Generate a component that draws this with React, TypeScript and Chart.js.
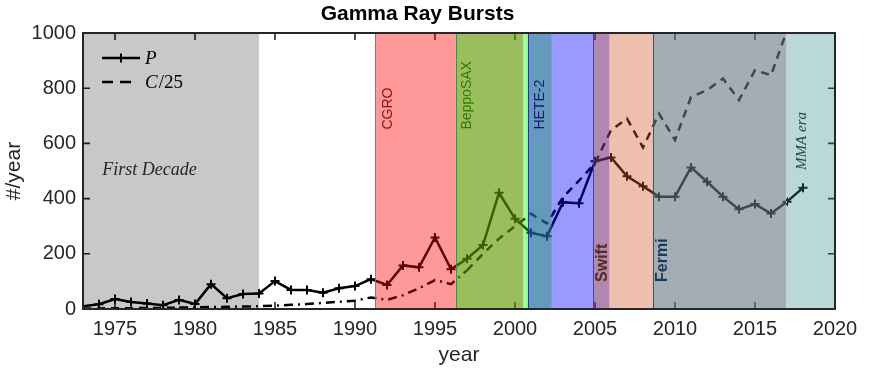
import React, { useEffect, useRef } from "react";
import { Chart, registerables } from "chart.js";

Chart.register(...registerables);

// ---------------- data ----------------
const years = [
  1973, 1974, 1975, 1976, 1977, 1978, 1979, 1980, 1981, 1982, 1983, 1984, 1985, 1986, 1987, 1988,
  1989, 1990, 1991, 1992, 1993, 1994, 1995, 1996, 1997, 1998, 1999, 2000, 2001, 2002, 2003, 2004,
  2005, 2006, 2007, 2008, 2009, 2010, 2011, 2012, 2013, 2014, 2015, 2016, 2017, 2018,
];
const pRate = [
  10, 17, 36, 25, 20, 14, 33, 18, 90, 39, 54, 56, 101, 69, 69, 59,
  75, 83, 108, 87, 158, 151, 259, 144, 182, 232, 421, 327, 276, 264, 387, 383,
  535, 549, 481, 445, 407, 407, 513, 461, 407, 361, 380, 346, 389, 439,
];
const cRate = [
  1, 2, 3, 3, 4, 4, 5, 6, 7, 8, 9, 10, 12, 15, 18, 22,
  26, 30, 42, 33, 50, 75, 105, 90, 140, 200, 255, 300, 345, 310, 405, 465,
  528, 648, 690, 585, 708, 612, 768, 793, 835, 757, 865, 847, 1010, 1150,
];
const xTickValues = [1975, 1980, 1985, 1990, 1995, 2000, 2005, 2010, 2015, 2020];
const yTickValues = [0, 200, 400, 600, 800, 1000];

const eraStarts = [1973, 1991.25, 1996.3, 2000.5, 2000.8, 2002.3, 2004.9, 2005.9, 2008.6, 2016.95];
const eraEnds = [1984, 1996.3, 2000.5, 2000.8, 2002.3, 2004.9, 2005.9, 2008.6, 2016.95, 2020];
const missionNames = ["CGRO", "BeppoSAX", "HETE-2", "Swift", "Fermi"];
const missionStarts = [1991.25, 1996.3, 2000.8, 2004.9, 2008.6];

// ---------------- styles ----------------
const SANS = "'Liberation Sans', Arial, Helvetica, sans-serif";
const SERIF = "'Liberation Serif', 'DejaVu Serif', serif";
const AXIS = "#262626";

const eraFill = [
  "rgba(0,0,0,0.216)",
  "rgba(255,0,0,0.4)",
  "rgba(95,151,0,0.63)",
  "rgba(0,255,0,0.4)",
  "rgba(29,109,159,0.69)",
  "rgba(0,0,255,0.4)",
  "rgba(122,55,122,0.6)",
  "rgba(210,90,40,0.38)",
  "rgba(100,120,130,0.6)",
  "rgba(45,136,136,0.33)",
];
const edgeColors = [
  "rgba(120,120,120,0.9)",
  "rgba(60,140,60,0.9)",
  "rgba(40,40,150,0.9)",
  "rgba(110,50,40,0.9)",
  "rgba(40,80,120,0.9)",
];
const missionText = [
  { color: "#8a0f0f", font: `14px ${SANS}`, dx: 0.8, yv: 650 },
  { color: "#2a7d00", font: `14px ${SANS}`, dx: 0.7, yv: 650 },
  { color: "#14147a", font: `14px ${SANS}`, dx: 0.76, yv: 650 },
  { color: "#5a2a1e", font: `bold 16px ${SANS}`, dx: 0.6, yv: 98 },
  { color: "#1c3a58", font: `bold 16px ${SANS}`, dx: 0.6, yv: 98 },
];

function isDashDot(x: number) {
  return x >= 1979 && x < 1996.3;
}

const decorPlugin = {
  id: "grbDecor",
  beforeDatasetsDraw(chart: any) {
    const { ctx, chartArea: a, scales } = chart;
    const x = scales.x;
    const y = scales.y;
    ctx.save();
    ctx.strokeStyle = AXIS;
    ctx.lineWidth = 1.6;
    ctx.beginPath();
    const tl = 7;
    for (const v of xTickValues) {
      if (v <= 1973 || v >= 2020) continue;
      const px = x.getPixelForValue(v);
      ctx.moveTo(px, a.bottom);
      ctx.lineTo(px, a.bottom - tl);
      ctx.moveTo(px, a.top);
      ctx.lineTo(px, a.top + tl);
    }
    for (const v of yTickValues) {
      if (v <= 0 || v >= 1000) continue;
      const py = y.getPixelForValue(v);
      ctx.moveTo(a.left, py);
      ctx.lineTo(a.left + tl, py);
      ctx.moveTo(a.right, py);
      ctx.lineTo(a.right - tl, py);
    }
    ctx.stroke();
    ctx.restore();
  },
  afterDatasetsDraw(chart: any) {
    const { ctx, chartArea: a, scales } = chart;
    const x = scales.x;
    const y = scales.y;
    ctx.save();
    // translucent era bands over everything
    eraStarts.forEach((s, i) => {
      const l = x.getPixelForValue(s);
      const r = x.getPixelForValue(eraEnds[i]);
      ctx.fillStyle = eraFill[i];
      ctx.fillRect(l, a.top, r - l, a.bottom - a.top);
    });
    // edges of mission patches
    ctx.lineWidth = 1;
    missionStarts.forEach((s, i) => {
      const px = Math.round(x.getPixelForValue(s)) + 0.5;
      ctx.strokeStyle = edgeColors[i];
      ctx.beginPath();
      ctx.moveTo(px, a.top);
      ctx.lineTo(px, a.bottom);
      ctx.stroke();
    });
    {
      const px = Math.round(x.getPixelForValue(eraStarts[9])) + 0.5;
      ctx.strokeStyle = "rgba(200,215,225,0.9)";
      ctx.setLineDash([2, 2]);
      ctx.beginPath();
      ctx.moveTo(px, a.top);
      ctx.lineTo(px, a.bottom);
      ctx.stroke();
      ctx.setLineDash([]);
    }
    // mission labels (rotated)
    missionNames.forEach((name, i) => {
      const st = missionText[i];
      ctx.save();
      ctx.translate(x.getPixelForValue(missionStarts[i] + st.dx), y.getPixelForValue(st.yv));
      ctx.rotate(-Math.PI / 2);
      ctx.font = st.font;
      ctx.fillStyle = st.color;
      ctx.textAlign = "left";
      ctx.textBaseline = "middle";
      ctx.fillText(name, 0, 0);
      ctx.restore();
    });
    // MMA era
    ctx.save();
    ctx.translate(x.getPixelForValue(eraStarts[9] + 1.0), y.getPixelForValue(504));
    ctx.rotate(-Math.PI / 2);
    ctx.font = `italic 15px ${SERIF}`;
    ctx.fillStyle = "#1a4646";
    ctx.textAlign = "left";
    ctx.textBaseline = "middle";
    ctx.fillText("MMA era", 0, 0);
    ctx.restore();
    // First Decade
    ctx.font = `italic 18px ${SERIF}`;
    ctx.fillStyle = "#262626";
    ctx.textAlign = "left";
    ctx.textBaseline = "middle";
    ctx.fillText("First Decade", x.getPixelForValue(1974.2), y.getPixelForValue(504));

    // legend
    const lx0 = a.left + 19;
    const lx1 = a.left + 57;
    const ly1 = a.top + 25;
    const ly2 = a.top + 49;
    ctx.strokeStyle = "#000";
    ctx.lineWidth = 2.5;
    ctx.beginPath();
    ctx.moveTo(lx0, ly1);
    ctx.lineTo(lx1, ly1);
    ctx.stroke();
    ctx.lineWidth = 2;
    const mx = (lx0 + lx1) / 2;
    ctx.beginPath();
    ctx.moveTo(mx - 4.5, ly1);
    ctx.lineTo(mx + 4.5, ly1);
    ctx.moveTo(mx, ly1 - 4.5);
    ctx.lineTo(mx, ly1 + 4.5);
    ctx.stroke();
    ctx.lineWidth = 2.5;
    ctx.setLineDash([11, 7]);
    ctx.beginPath();
    ctx.moveTo(lx0, ly2);
    ctx.lineTo(lx1 - 7, ly2);
    ctx.stroke();
    ctx.setLineDash([]);
    ctx.fillStyle = "#000";
    ctx.textBaseline = "middle";
    ctx.font = `italic 19px ${SERIF}`;
    ctx.fillText("P", lx1 + 5, ly1 + 1);
    ctx.fillText("C", lx1 + 5, ly2 + 1);
    const cw = ctx.measureText("C").width;
    ctx.font = `19px ${SERIF}`;
    ctx.fillText("/25", lx1 + 6 + cw, ly2 + 1);

    // box
    ctx.strokeStyle = AXIS;
    ctx.lineWidth = 2;
    ctx.strokeRect(a.left, a.top, a.right - a.left, a.bottom - a.top);
    ctx.restore();
  },
};

export default function App() {
  const ref = useRef<HTMLCanvasElement | null>(null);

  useEffect(() => {
    if (!ref.current) return;
    const chart = new Chart(ref.current, {
      type: "line",
      data: {
        datasets: [
          {
            label: "P",
            data: years.map((yr, i) => ({ x: yr, y: pRate[i] })),
            borderColor: "#000",
            borderWidth: 2.5,
            pointStyle: "cross",
            pointRadius: 4.5,
            pointBorderWidth: 2,
            pointBorderColor: "#000",
            pointBackgroundColor: "#000",
            fill: false,
            tension: 0,
          },
          {
            label: "C/25",
            data: years.map((yr, i) => ({ x: yr, y: cRate[i] })),
            borderColor: "#000",
            borderWidth: 2.5,
            pointRadius: 0,
            fill: false,
            tension: 0,
            borderDash: [8, 6],
            segment: {
              borderDash: (ctx: any) => (isDashDot(ctx.p0.parsed.x) ? [9, 5, 2, 5] : [8, 6]),
            },
          },
        ],
      },
      options: {
        animation: false,
        responsive: false,
        maintainAspectRatio: false,
        layout: { padding: { left: 0, right: 39, top: 0, bottom: 0 } },
        plugins: {
          legend: { display: false },
          tooltip: { enabled: false },
          title: {
            display: true,
            text: "Gamma Ray Bursts",
            color: "#000",
            font: { family: SANS, size: 21, weight: "bold" },
            padding: { top: 2, bottom: 5.8 },
          },
        },
        scales: {
          x: {
            type: "linear",
            min: 1973,
            max: 2020,
            afterBuildTicks: (s: any) => {
              s.ticks = xTickValues.map((v) => ({ value: v }));
            },
            afterFit: (s: any) => {
              s.height = 65;
            },
            ticks: {
              callback: (v: any) => String(v),
              color: AXIS,
              font: { family: SANS, size: 20 },
              padding: 8,
              maxRotation: 0,
              autoSkip: false,
            },
            grid: { display: false, drawTicks: false },
            border: { display: false },
            title: {
              display: true,
              text: "year",
              color: AXIS,
              font: { family: SANS, size: 21 },
              padding: { top: 0, bottom: 6 },
            },
          },
          y: {
            type: "linear",
            min: 0,
            max: 1000,
            afterBuildTicks: (s: any) => {
              s.ticks = yTickValues.map((v) => ({ value: v }));
            },
            afterFit: (s: any) => {
              s.width = 83;
            },
            ticks: {
              callback: (v: any) => String(v),
              color: AXIS,
              font: { family: SANS, size: 20 },
              padding: 7,
            },
            grid: { display: false, drawTicks: false },
            border: { display: false },
            title: {
              display: true,
              text: "#/year",
              color: AXIS,
              font: { family: SANS, size: 21 },
              padding: { top: 2, bottom: 0 },
            },
          },
        },
      },
      plugins: [decorPlugin],
    } as any);
    return () => chart.destroy();
  }, []);

  return (
    <div style={{ position: "fixed", left: 0, top: 0, width: 874, height: 374, background: "#fff" }}>
      <canvas ref={ref} width={874} height={374} style={{ width: 874, height: 374, display: "block" }} />
    </div>
  );
}
